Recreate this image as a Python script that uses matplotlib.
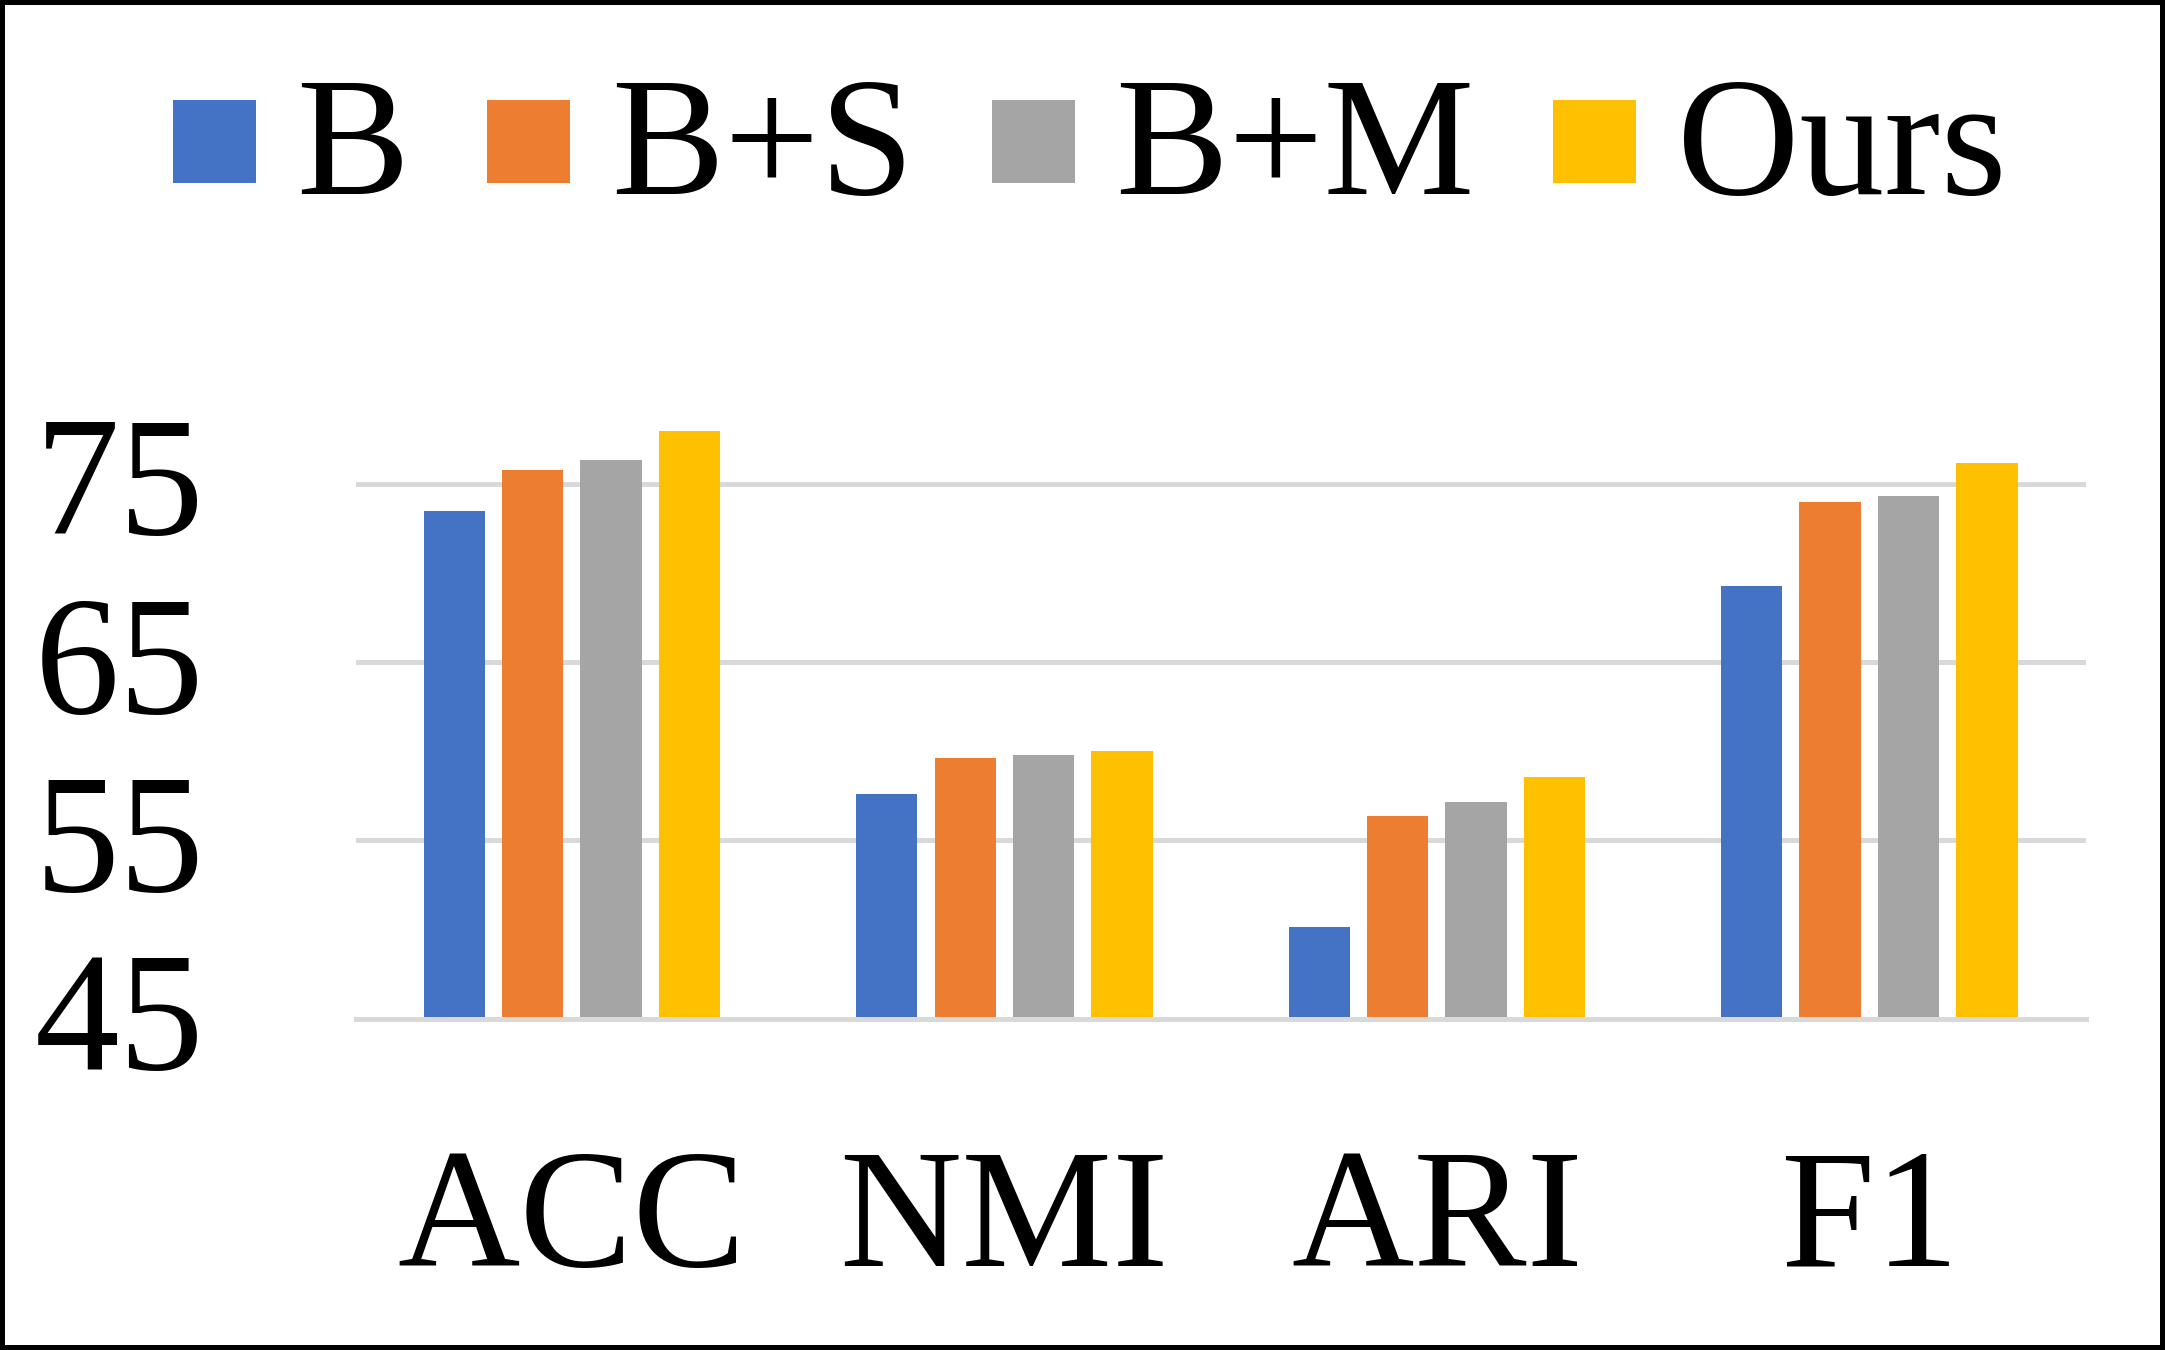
import matplotlib
matplotlib.use("Agg")
import matplotlib.pyplot as plt
import matplotlib.transforms as mtransforms
import numpy as np
from matplotlib.legend_handler import HandlerPatch
from matplotlib.patches import Rectangle

plt.rcParams["font.family"] = ["Liberation Serif", "DejaVu Serif"]

metrics = ["ACC", "NMI", "ARI", "F1"]
series_names = ["B", "B+S", "B+M", "Ours"]
colors = ["#4472C4", "#ED7D31", "#A5A5A5", "#FFC000"]

b_vals = [73.45, 57.6, 50.12, 69.26]
bs_vals = [75.77, 59.6, 56.35, 73.96]
bm_vals = [76.33, 59.79, 57.13, 74.29]
ours_vals = [77.95, 60.0, 58.55, 76.15]
y_ticks = [45, 55, 65, 75]

W, H = 2165, 1350
fig = plt.figure(figsize=(W / 100, H / 100), dpi=100)
ax = fig.add_axes([355.7 / W, 1 - 1018.7 / H, (2085.6 - 355.7) / W, (1018.7 - 394.6) / H])

x = np.arange(len(metrics))
step, width = 0.1813, 0.1418
bars = []
for i, (vals, name, c) in enumerate(zip([b_vals, bs_vals, bm_vals, ours_vals], series_names, colors)):
    bars.append(ax.bar(x + (i - 1.5) * step, np.array(vals) - 45, width, bottom=45,
                       color=c, label=name, zorder=2))

ax.set_xlim(-0.5, 3.5)
ax.set_ylim(45, 80)
ax.set_yticks(y_ticks)
ax.set_xticks(x)
ax.set_xticklabels(metrics)
ax.tick_params(axis="both", length=0, labelsize=122)
ax.tick_params(axis="x", pad=93)
ax.tick_params(axis="y", pad=109)
ax.yaxis.grid(True, color="#D9D9D9", lw=3.6, zorder=0)
ax.set_axisbelow(True)
for side in ["top", "right", "left"]:
    ax.spines[side].set_visible(False)
ax.spines["bottom"].set_color("#D9D9D9")
ax.spines["bottom"].set_linewidth(3.6)
ax.spines["bottom"].set_zorder(3)

# nudge y tick labels up a little, like the original
lift = mtransforms.ScaledTranslation(0, 6 / 72, fig.dpi_scale_trans)
for tick in ax.yaxis.get_major_ticks():
    tick.label1.set_transform(tick.label1.get_transform() + lift)


def square_handle(legend, orig_handle, xdescent, ydescent, width, height, fontsize):
    return Rectangle(xy=(-xdescent, -ydescent - 5.4), width=width, height=height)


fig.legend([b.patches[0] for b in bars], series_names,
           loc="center left", bbox_to_anchor=(172.6 / W, 1 - 153.5 / H), ncol=4,
           frameon=False, fontsize=122, handlelength=0.49, handleheight=0.377,
           handletextpad=0.24, columnspacing=0.46, borderpad=0, borderaxespad=0,
           handler_map={Rectangle: HandlerPatch(patch_func=square_handle)})

fig.patches.append(Rectangle((0, 0), 1, 1, transform=fig.transFigure, fill=False,
                             edgecolor="black", lw=7.2, zorder=10))

fig.savefig("out.png", dpi=100)
